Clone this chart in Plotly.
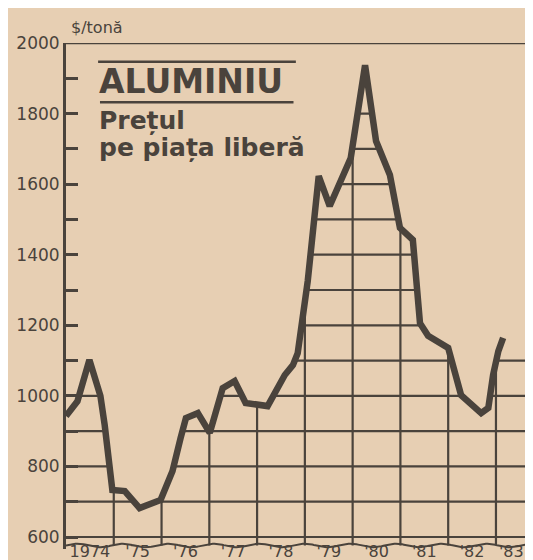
import numpy as np
import plotly.graph_objects as go

# ---- data ----
time_years = [1974.00, 1974.24, 1974.49, 1974.72, 1974.81, 1974.91, 1974.97, 1975.23, 1975.54,
              1975.98, 1976.23, 1976.40, 1976.51, 1976.76, 1977.01, 1977.28, 1977.53, 1977.76,
              1978.22, 1978.58, 1978.75, 1978.85, 1979.06, 1979.29, 1979.52, 1979.96, 1980.26,
              1980.49, 1980.78, 1980.99, 1981.26, 1981.41, 1981.58, 1982.00, 1982.13, 1982.27,
              1982.69, 1982.84, 1982.94, 1983.05, 1983.15]
price_usd_t = [943, 985, 1102, 1000, 917, 787, 733, 730, 682,
               705, 787, 881, 937, 951, 895, 1022, 1042, 980,
               971, 1059, 1087, 1121, 1325, 1623, 1538, 1674, 1937,
               1722, 1626, 1476, 1442, 1206, 1170, 1136, 1079, 1002,
               951, 966, 1059, 1127, 1164]

year_labels = ["1974", "'75", "'76", "'77", "'78", "'79", "'80", "'81", "'82", "'83"]
year_label_pos = [1974.5, 1975.5, 1976.5, 1977.5, 1978.5, 1979.5, 1980.5, 1981.5, 1982.5, 1983.32]
year_bounds = [1975, 1976, 1977, 1978, 1979, 1980, 1981, 1982, 1983]
y_ticks = list(range(600, 2001, 100))
y_ticktext = [str(v) if v % 200 == 0 else "" for v in y_ticks]

X0, X1 = 1974.0, 1983.88
Y0, Y1 = 566, 2000
WAVE_Y = 576

BG = "#e7cfb3"
INK = "#4a433c"

fig = go.Figure()

# grid shapes (only visible below the curve, the rest is covered by paper-coloured fill)
shapes = []
for v in y_ticks[:-1]:
    shapes.append(dict(type="line", xref="x", yref="y", x0=X0, x1=X1, y0=v, y1=v,
                       line=dict(color=INK, width=2.2), layer="below"))
for b in year_bounds:
    shapes.append(dict(type="line", xref="x", yref="y", x0=b, x1=b, y0=WAVE_Y, y1=Y1,
                       line=dict(color=INK, width=2.2), layer="below"))
# top frame line
shapes.append(dict(type="line", xref="x", yref="y", x0=X0, x1=X1, y0=Y1, y1=Y1,
                   line=dict(color=INK, width=2.5), layer="above"))
# title rules
shapes.append(dict(type="line", xref="paper", yref="paper", x0=0.068, x1=0.487, y0=0.963, y1=0.963,
                   line=dict(color=INK, width=2.5)))
shapes.append(dict(type="line", xref="paper", yref="paper", x0=0.072, x1=0.482, y0=0.883, y1=0.883,
                   line=dict(color=INK, width=2.5)))

# paper-coloured cover above the curve
cover_x = [X0] + time_years + [X1, X1, X0]
cover_y = [price_usd_t[0]] + price_usd_t + [price_usd_t[-1], Y1, Y1]
fig.add_trace(go.Scatter(x=cover_x, y=cover_y, fill="toself", fillcolor=BG,
                         line=dict(width=0), mode="lines", hoverinfo="skip", showlegend=False))

# wavy axis-break line at the bottom
wx = np.linspace(X0, X1, 300)
wy = WAVE_Y + 5 * np.sin(2 * np.pi * (wx - X0) * 1.05)
fig.add_trace(go.Scatter(x=wx, y=wy, mode="lines", line=dict(color=INK, width=2),
                         hoverinfo="skip", showlegend=False))

# price curve
fig.add_trace(go.Scatter(x=time_years, y=price_usd_t, mode="lines",
                         line=dict(color=INK, width=6.5), showlegend=False))

annotations = [
    dict(text="$/tonă", xref="paper", yref="paper", x=0.006, y=1.03, xanchor="left", yanchor="middle",
         showarrow=False, font=dict(family="DejaVu Sans", size=16, color=INK)),
    dict(text="<b>ALUMINIU</b>", xref="paper", yref="paper", x=0.066, y=0.923, xanchor="left",
         yanchor="middle", showarrow=False, font=dict(family="DejaVu Sans", size=33, color=INK)),
    dict(text="<b>Prețul</b>", xref="paper", yref="paper", x=0.066, y=0.846, xanchor="left",
         yanchor="middle", showarrow=False, font=dict(family="DejaVu Sans", size=25, color=INK)),
    dict(text="<b>pe piața liberă</b>", xref="paper", yref="paper", x=0.066, y=0.793, xanchor="left",
         yanchor="middle", showarrow=False, font=dict(family="DejaVu Sans", size=25, color=INK)),
]

fig.update_layout(
    width=533, height=560,
    margin=dict(l=58, r=3, t=35, b=19),
    paper_bgcolor=BG, plot_bgcolor=BG,
    shapes=shapes, annotations=annotations,
    xaxis=dict(range=[X0, X1], showgrid=False, zeroline=False, showline=False,
               tickvals=year_label_pos, ticktext=year_labels, ticks="", ticklen=0,
               ticklabelstandoff=-9,
               tickfont=dict(family="DejaVu Sans", size=16, color=INK), automargin=False),
    yaxis=dict(range=[Y0, Y1], showgrid=False, zeroline=False, showline=True, linewidth=3,
               linecolor=INK, mirror="ticks", ticks="inside", ticklen=12, tickwidth=2.5,
               tickcolor=INK, tickvals=y_ticks, ticktext=y_ticktext,
               tickfont=dict(family="DejaVu Sans", size=17, color=INK), automargin=False),
    hovermode=False,
)

fig.write_html("out.html")
